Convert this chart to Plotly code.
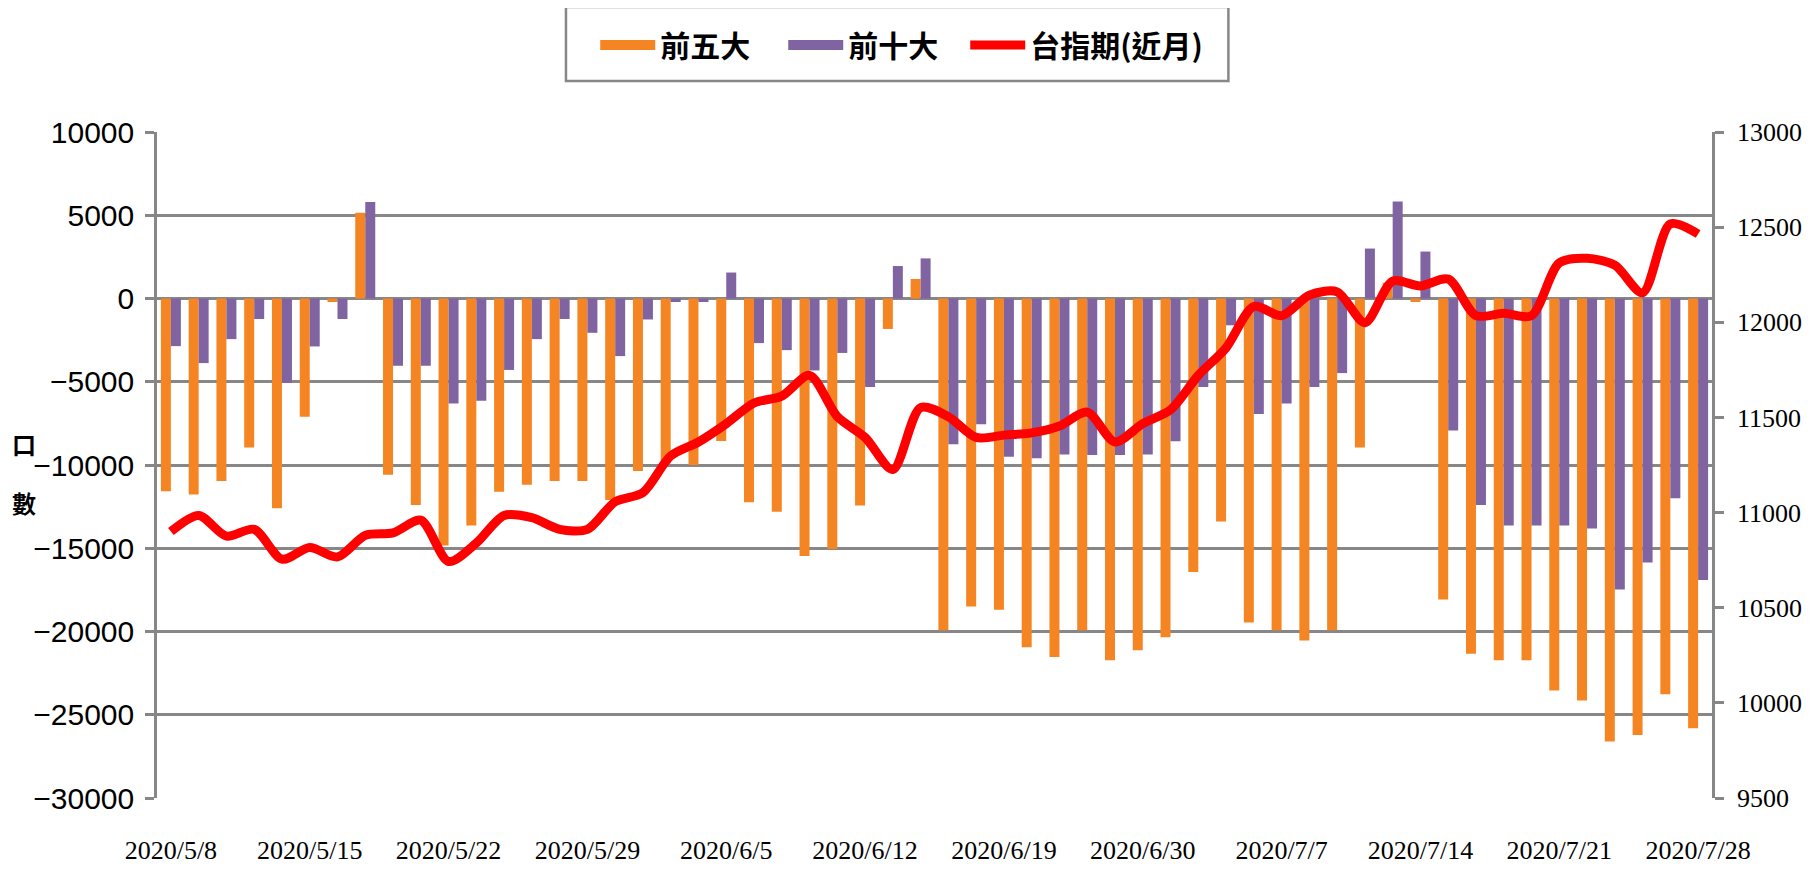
import plotly.graph_objects as go

dates = [
    "2020/5/8", "2020/5/11", "2020/5/12", "2020/5/13", "2020/5/14", "2020/5/15",
    "2020/5/18", "2020/5/19", "2020/5/20", "2020/5/21", "2020/5/22",
    "2020/5/25", "2020/5/26", "2020/5/27", "2020/5/28", "2020/5/29",
    "2020/6/1", "2020/6/2", "2020/6/3", "2020/6/4", "2020/6/5",
    "2020/6/8", "2020/6/9", "2020/6/10", "2020/6/11", "2020/6/12",
    "2020/6/15", "2020/6/16", "2020/6/17", "2020/6/18", "2020/6/19",
    "2020/6/22", "2020/6/23", "2020/6/24", "2020/6/29", "2020/6/30",
    "2020/7/1", "2020/7/2", "2020/7/3", "2020/7/6", "2020/7/7",
    "2020/7/8", "2020/7/9", "2020/7/10", "2020/7/13", "2020/7/14",
    "2020/7/15", "2020/7/16", "2020/7/17", "2020/7/20", "2020/7/21",
    "2020/7/22", "2020/7/23", "2020/7/24", "2020/7/27", "2020/7/28",
]

top5 = [
    -11570, -11770, -10960, -8950, -12600, -7100, -210, 5150, -10580, -12400,
    -14830, -13640, -11600, -11190, -10960, -10960, -12100, -10360, -9900, -10000,
    -8560, -12230, -12810, -15460, -15050, -12430, -1830, 1170, -19930, -18500,
    -18690, -20950, -21530, -19930, -21720, -21120, -20340, -16430, -13390, -19460,
    -19930, -20540, -19930, -8950, 950, -210, -18080, -21340, -21720, -21720,
    -23550, -24150, -26610, -26220, -23770, -25810,
]

top10 = [
    -2860, -3880, -2440, -1230, -5060, -2880, -1230, 5800, -4040, -4040,
    -6300, -6140, -4290, -2440, -1230, -2060, -3460, -1260, -210, -210,
    1560, -2680, -3100, -4320, -3270, -5310, 1950, 2410, -8760, -7550,
    -9500, -9590, -9370, -9400, -9400, -9370, -8570, -5310, -1610, -6940,
    -6300, -5310, -4480, 3000, 5820, 2820, -7930, -12400, -13640, -13640,
    -13640, -13810, -17480, -15850, -11990, -16900,
]

futures = [
    10900, 10985, 10876, 10912, 10755, 10816, 10767, 10880, 10893, 10960,
    10743, 10840, 10985, 10973, 10912, 10912, 11057, 11105, 11298, 11371,
    11467, 11576, 11612, 11721, 11504, 11395, 11226, 11552, 11504, 11395,
    11407, 11419, 11455, 11528, 11371, 11467, 11540, 11721, 11866, 12083,
    12035, 12143, 12160, 11998, 12216, 12191, 12227, 12035, 12047, 12035,
    12312, 12336, 12300, 12155, 12517, 12464,
]

tick_labels = dates[::5]

GRID = "#878787"
CJK = "Noto Sans CJK TC"
ORANGE = "#F58523"
PURPLE = "#8064A2"
RED = "#FF0000"

fig = go.Figure()
fig.add_trace(go.Bar(x=dates, y=top5, name="前五大", marker_color=ORANGE,
                     marker_line_width=0, showlegend=False, legendgroup="a"))
fig.add_trace(go.Bar(x=dates, y=top10, name="前十大", marker_color=PURPLE,
                     marker_line_width=0, showlegend=False, legendgroup="b"))
fig.add_trace(go.Scatter(x=dates, y=futures, name="台指期(近月)", yaxis="y2",
                         mode="lines", legendwidth=195, legendgroup="c", legendrank=3,
                         line=dict(color=RED, width=9,
                                   shape="spline", smoothing=0.8)))
# legend swatches (wide rectangles like the original)
fig.add_trace(go.Scatter(x=[None], y=[None], name="前五大", mode="lines",
                         legendgroup="a", legendrank=1, legendwidth=118,
                         line=dict(color=ORANGE, width=20)))
fig.add_trace(go.Scatter(x=[None], y=[None], name="前十大", mode="lines",
                         legendgroup="b", legendrank=2, legendwidth=112,
                         line=dict(color=PURPLE, width=20)))

fig.update_layout(
    width=1798, height=860,
    margin=dict(l=149, r=94, t=124, b=70, autoexpand=False),
    plot_bgcolor="white", paper_bgcolor="white",
    barmode="group", bargap=0.28, bargroupgap=0,
    showlegend=True,
    legend=dict(orientation="h", x=0.486, xanchor="center", y=1.1306, yanchor="middle",
                borderwidth=0, bgcolor="rgba(0,0,0,0)", traceorder="normal",
                font=dict(family=CJK, size=30, color="black", weight="bold"),
                itemwidth=55, tracegroupgap=0),
    xaxis=dict(type="category", tickmode="array", tickvals=tick_labels,
               ticktext=tick_labels, showgrid=False, showline=False,
               ticks="", tickangle=0, ticklabelstandoff=34,
               tickfont=dict(family="Liberation Serif", size=26, color="black")),
    yaxis=dict(range=[-30000, 10000], dtick=5000, tick0=0, tickformat="d",
               showgrid=True, gridcolor=GRID, gridwidth=2.5,
               zeroline=True, zerolinecolor=GRID, zerolinewidth=2.5,
               showline=True, linecolor=GRID, linewidth=2.5,
               ticks="outside", ticklen=9, tickwidth=2.5, tickcolor=GRID,
               ticklabelstandoff=5,
               tickfont=dict(family="Liberation Sans", size=30, color="black")),
    yaxis2=dict(range=[9500, 13000], dtick=500, tick0=9500, tickformat="d",
                overlaying="y", side="right", showgrid=False, zeroline=False,
                showline=True, linecolor=GRID, linewidth=2.5,
                ticks="outside", ticklen=9, tickwidth=2.5, tickcolor=GRID,
                ticklabelstandoff=8,
                tickfont=dict(family="Liberation Serif", size=26, color="black")),
    shapes=[dict(type="rect", xref="paper", yref="paper",
                 x0=0.263, x1=0.689, y0=1.0766, y1=1.1877,
                 line=dict(color=GRID, width=2.5), fillcolor="rgba(0,0,0,0)")],
    annotations=[
        dict(text="口", xref="paper", yref="paper", x=-0.0855, y=(798 - 443) / 666,
             xanchor="center", yanchor="middle", showarrow=False,
             font=dict(family=CJK, size=24, color="black", weight="bold")),
        dict(text="數", xref="paper", yref="paper", x=-0.0855, y=(798 - 502) / 666,
             xanchor="center", yanchor="middle", showarrow=False,
             font=dict(family=CJK, size=24, color="black", weight="bold")),
    ],
)

fig.write_html("out.html")
